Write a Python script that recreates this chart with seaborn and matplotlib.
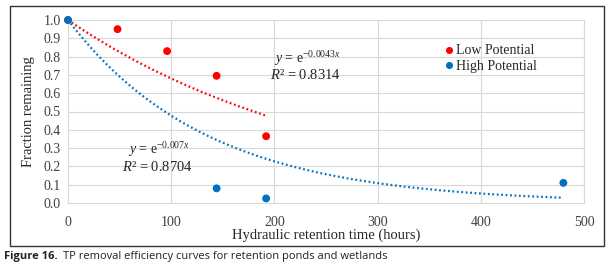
import numpy as np
import pandas as pd
import matplotlib
matplotlib.use("Agg")
import matplotlib.pyplot as plt
import seaborn as sns
from matplotlib.patches import Rectangle

# Data
low_x = [0, 48, 96, 144, 192]
low_y = [1.0, 0.95, 0.83, 0.695, 0.365]
high_x = [0, 144, 192, 480]
high_y = [1.0, 0.08, 0.025, 0.11]
series_names = ["Low Potential", "High Potential"]
series_colors = ["#FF0000", "#0070C0"]
low_eq = ("0.0043", "0.8314")
high_eq = ("0.007", "0.8704")
x_ticks = [0, 100, 200, 300, 400, 500]
y_ticks = [0.0, 0.1, 0.2, 0.3, 0.4, 0.5, 0.6, 0.7, 0.8, 0.9, 1.0]

sns.set_style("whitegrid")
plt.rcParams["font.family"] = ["Liberation Serif", "DejaVu Serif"]
plt.rcParams["mathtext.fontset"] = "custom"
plt.rcParams["mathtext.rm"] = "Liberation Serif"
plt.rcParams["mathtext.it"] = "Liberation Serif:italic"

points = pd.concat([
    pd.DataFrame({"x": low_x, "y": low_y, "series": series_names[0]}),
    pd.DataFrame({"x": high_x, "y": high_y, "series": series_names[1]}),
])


# exponential trendline through (0, 1): ln y = k x
def trend(xs, ys):
    xs = np.asarray(xs, float)
    ly = np.log(np.asarray(ys, float))
    k = (xs * ly).sum() / (xs ** 2).sum()
    xx = np.linspace(0, xs.max(), 200)
    return pd.DataFrame({"x": xx, "y": np.exp(k * xx)})


fig = plt.figure(figsize=(6.14, 2.68), dpi=100)
ax = fig.add_axes([68 / 614, 1 - 203 / 268, 516 / 614, 183 / 268])

grid_c = "#D9D9D9"
for xs, ys, c in [(low_x, low_y, series_colors[0]), (high_x, high_y, series_colors[1])]:
    t = trend(xs, ys)
    sns.lineplot(data=t, x="x", y="y", ax=ax, color=c, linewidth=1.6,
                 linestyle=(0, (0.8, 1.2)), legend=False, zorder=2)

sns.scatterplot(data=points, x="x", y="y", hue="series", palette=series_colors,
                hue_order=series_names, s=32, edgecolor="none", ax=ax, zorder=3,
                clip_on=False)

ax.set_xlim(0, 500)
ax.set_ylim(0, 1.0)
ax.set_xticks(x_ticks)
ax.set_yticks(y_ticks)
ax.set_yticklabels([f"{v:.1f}" for v in y_ticks])
ax.tick_params(axis="both", length=0, labelsize=10, colors="#404040")
ax.tick_params(axis="x", pad=9)
ax.tick_params(axis="y", pad=5)
ax.grid(True, color=grid_c, linewidth=0.8)
for s in ax.spines.values():
    s.set_color(grid_c)
    s.set_linewidth(0.8)
ax.set_xlabel("Hydraulic retention time (hours)", fontsize=10.5, color="#262626", labelpad=0)
ax.set_ylabel("Fraction remaining", fontsize=10.5, color="#262626", labelpad=6)

leg = ax.legend(loc="upper left", bbox_to_anchor=(0.70, 0.935), frameon=False,
                fontsize=10, handletextpad=0.05, handlelength=1.0, labelspacing=0.2,
                markerscale=0.9)
for txt in leg.get_texts():
    txt.set_color("#262626")

# trendline labels
ax.text(200, 0.79, r"$\it{y}$ = e$^{\rm{-" + low_eq[0] + r"}\it{x}}$", fontsize=10, color="#262626", va="center")
ax.text(196, 0.70, r"$\it{R}$² = " + low_eq[1], fontsize=10.5, color="#262626", va="center")
ax.text(58, 0.29, r"$\it{y}$ = e$^{\rm{-" + high_eq[0] + r"}\it{x}}$", fontsize=10, color="#262626", va="center")
ax.text(52, 0.198, r"$\it{R}$² = " + high_eq[1], fontsize=10.5, color="#262626", va="center")

# outer frame and caption
fig.patches.append(Rectangle((10 / 614, 1 - 246 / 268), 594 / 614, 240 / 268,
                             transform=fig.transFigure, fill=False, edgecolor="#333333",
                             linewidth=1.0))
fig.text(4 / 614, 1 - 257 / 268, "Figure 16.", fontsize=8, fontweight="bold",
         family="Open Sans", va="center", color="#222222")
fig.text(63 / 614, 1 - 257 / 268, "TP removal efficiency curves for retention ponds and wetlands",
         fontsize=8, family="Open Sans", va="center", color="#222222")

fig.savefig("out.png", dpi=100)
